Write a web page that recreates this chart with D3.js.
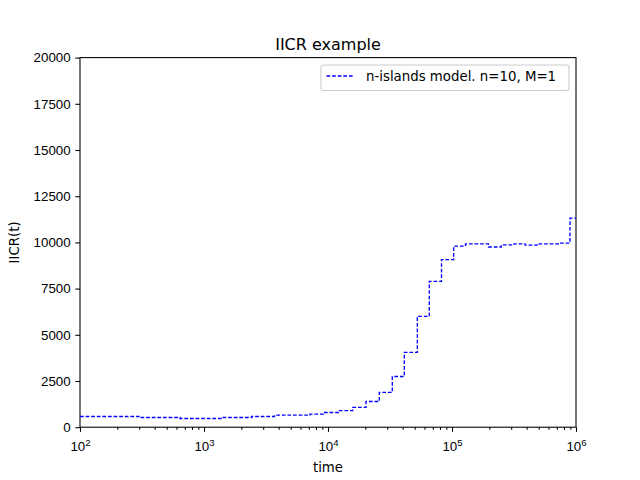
<!DOCTYPE html>
<html>
<head>
<meta charset="utf-8">
<script src="https://cdn.jsdelivr.net/npm/d3@7"></script>
<style>
  body { margin: 0; background: #fff; }
  svg { font-family: "DejaVu Sans", sans-serif; }
  .axis path, .axis line { stroke: #000; stroke-width: 1.07; }
  .axis text { font-size: 13.33px; fill: #000; }
</style>
</head>
<body>
<div id="chart-area"><svg></svg></div>
<script>
const CHART_SIZE = { width: 640, height: 480 };
const MARGIN = { left: 80, right: 64, top: 57.6, bottom: 52.8 };
const WIDTH = CHART_SIZE.width - (MARGIN.left + MARGIN.right);
const HEIGHT = CHART_SIZE.height - (MARGIN.top + MARGIN.bottom);

// step start times and the IICR level from each one on
const times = [100, 305, 640, 1389, 2425, 3703, 7158, 9163, 12106, 15820, 20250, 25930,
  33000, 41240, 52520, 65600, 82300, 103200, 128500, 197000, 249400, 316000, 388000,
  485000, 743000, 894600, 1000000];
const iicr = [580, 525, 470, 525, 580, 650, 705, 795, 900, 1070, 1390, 1880,
  2745, 4050, 6000, 7895, 9070, 9800, 9920, 9750, 9865, 9920, 9850,
  9920, 9965, 11310, 11310];

const xMajor = [2, 3, 4, 5, 6];
const yTicks = [0, 2500, 5000, 7500, 10000, 12500, 15000, 17500, 20000];
const seriesLabel = "n-islands model. n=10, M=1";

const svg = d3.select("#chart-area svg")
  .attr("width", CHART_SIZE.width)
  .attr("height", CHART_SIZE.height);

const g = svg.append("g")
  .attr("transform", `translate(${MARGIN.left},${MARGIN.top})`);

const x = d3.scaleLog().domain([1e2, 1e6]).range([0, WIDTH]);
const y = d3.scaleLinear().domain([0, 20000]).range([HEIGHT, 0]);

// minor ticks on the log axis
const minors = [];
xMajor.slice(0, -1).forEach(e => {
  for (let k = 2; k <= 9; k++) minors.push(k * Math.pow(10, e));
});

g.append("g")
  .attr("class", "axis")
  .attr("transform", `translate(0,${HEIGHT})`)
  .call(d3.axisBottom(x).tickValues(minors).tickSize(2.67).tickSizeOuter(0).tickFormat(""))
  .select(".domain").remove();

const xAx = g.append("g")
  .attr("class", "axis")
  .attr("transform", `translate(0,${HEIGHT})`)
  .call(d3.axisBottom(x).tickValues(xMajor.map(e => Math.pow(10, e)))
    .tickSize(4.67).tickSizeOuter(0).tickFormat(""));
xAx.select(".domain").remove();

xAx.selectAll(".tick").each(function(d) {
  const t = d3.select(this).append("text")
    .attr("y", 24)
    .attr("text-anchor", "middle")
    .attr("fill", "#000");
  t.append("tspan").text("10");
  t.append("tspan")
    .attr("dy", -5.5)
    .attr("font-size", "9.5px")
    .text(Math.round(Math.log10(d)));
});

const yAx = g.append("g")
  .attr("class", "axis")
  .call(d3.axisLeft(y).tickValues(yTicks).tickSize(4.67).tickSizeOuter(0).tickPadding(4.67)
    .tickFormat(d3.format("d")));
yAx.select(".domain").remove();

// axes frame
g.append("rect")
  .attr("width", WIDTH)
  .attr("height", HEIGHT)
  .attr("fill", "none")
  .attr("stroke", "#000")
  .attr("stroke-width", 1.07);

const line = d3.line()
  .x((d, i) => x(times[i]))
  .y(d => y(d))
  .curve(d3.curveStepAfter);

g.append("path")
  .attr("d", line(iicr))
  .attr("fill", "none")
  .attr("stroke", "#0000ff")
  .attr("stroke-width", 1.33)
  .attr("stroke-dasharray", "3.7,1.9");

// title and labels
svg.append("text")
  .attr("x", MARGIN.left + WIDTH / 2)
  .attr("y", MARGIN.top - 8)
  .attr("text-anchor", "middle")
  .attr("font-size", "16px")
  .text("IICR example");

svg.append("text")
  .attr("x", MARGIN.left + WIDTH / 2)
  .attr("y", 472)
  .attr("text-anchor", "middle")
  .attr("font-size", "13.33px")
  .text("time");

svg.append("text")
  .attr("transform", `translate(19,${MARGIN.top + HEIGHT / 2}) rotate(-90)`)
  .attr("text-anchor", "middle")
  .attr("font-size", "13.33px")
  .text("IICR(t)");

// legend
const lg = svg.append("g").attr("transform", "translate(321,65)");
lg.append("rect")
  .attr("width", 248)
  .attr("height", 25.5)
  .attr("rx", 2.5)
  .attr("fill", "#fff")
  .attr("fill-opacity", 0.8)
  .attr("stroke", "#cccccc")
  .attr("stroke-width", 1.07);
lg.append("line")
  .attr("x1", 5.5).attr("x2", 33.5)
  .attr("y1", 11).attr("y2", 11)
  .attr("stroke", "#0000ff")
  .attr("stroke-width", 1.33)
  .attr("stroke-dasharray", "3.7,1.9");
lg.append("text")
  .attr("x", 45)
  .attr("y", 16)
  .attr("font-size", "13.33px")
  .text(seriesLabel);
</script>
</body>
</html>
